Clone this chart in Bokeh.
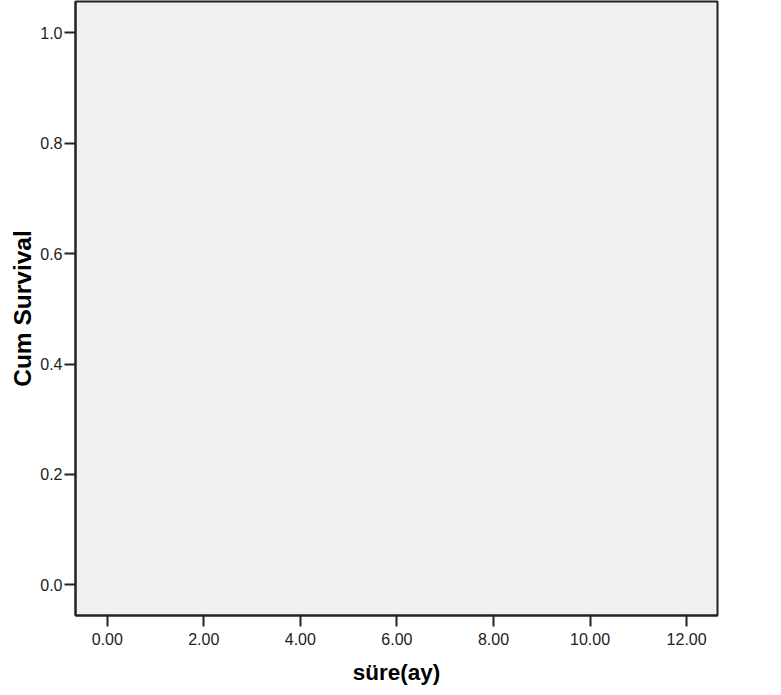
from bokeh.plotting import figure
from bokeh.layouts import row
from bokeh.models import Range1d, Legend, LegendItem, FixedTicker, ColumnDataSource
from bokeh.embed import file_html
from bokeh.resources import INLINE

NaN = float("nan")

# ---- data (no survival steps / censor marks are visible in the reference;
#      a single missing value keeps the legend keys drawable) ----
time_months = [NaN]
cum_survival = [NaN]
censor_time = [NaN]
censor_surv = [NaN]

x_ticks = [0, 2, 4, 6, 8, 10, 12]
x_tick_labels = ["0.00", "2.00", "4.00", "6.00", "8.00", "10.00", "12.00"]
y_ticks = [0.0, 0.2, 0.4, 0.6, 0.8, 1.0]
y_tick_labels = ["0.0", "0.2", "0.4", "0.6", "0.8", "1.0"]

x_title = "süre(ay)"
y_title = "Cum Survival"

BLUE = "#3F5BB3"
DARK = "#222222"
FONT = "Liberation Sans"

# ---------------- main chart ----------------
p = figure(
    width=740, height=695,
    x_range=Range1d(-0.657, 12.64), y_range=Range1d(-0.0556, 1.0567),
    output_backend="svg", toolbar_location=None,
    min_border_left=75, min_border_right=23, min_border_top=1, min_border_bottom=80,
)
p.margin = 0
p.background_fill_color = "#F0F0F0"
p.border_fill_color = "white"
p.outline_line_color = DARK
p.outline_line_width = 2
p.grid.visible = False

for ax, ticks, labels in ((p.xaxis[0], x_ticks, x_tick_labels), (p.yaxis[0], y_ticks, y_tick_labels)):
    ax.ticker = FixedTicker(ticks=ticks)
    ax.major_label_overrides = dict(zip(ticks, labels))
    ax.minor_tick_line_color = None
    ax.major_tick_in = 0
    ax.major_tick_out = 11
    ax.major_tick_line_width = 2
    ax.major_tick_line_color = DARK
    ax.axis_line_color = DARK
    ax.axis_line_width = 2
    ax.major_label_text_font = FONT
    ax.major_label_text_font_size = "16px"
    ax.major_label_text_color = DARK
    ax.axis_label_text_font = FONT
    ax.axis_label_text_font_style = "bold"
    ax.axis_label_text_color = "black"

p.xaxis.axis_label = x_title
p.yaxis.axis_label = y_title
p.xaxis.axis_label_text_font_size = "22.5px"
p.yaxis.axis_label_text_font_size = "24.5px"
p.xaxis.major_label_standoff = 6
p.yaxis.major_label_standoff = 2
p.xaxis.axis_label_standoff = 12
p.yaxis.axis_label_standoff = 1

p.step(x=time_months, y=cum_survival, mode="after", line_color=BLUE, line_width=1.5)
p.scatter(x=censor_time, y=censor_surv, marker="cross", size=17,
          line_color=BLUE, line_width=1.5)

# ---------------- legend strip (cut off at the right edge, as in the reference) ----------------
q = figure(width=41, height=100, x_range=Range1d(0, 1), y_range=Range1d(0, 1),
           output_backend="svg", toolbar_location=None,
           x_axis_type=None, y_axis_type=None,
           min_border_left=0, min_border_right=0, min_border_top=0, min_border_bottom=0)
q.margin = 0
q.outline_line_color = None
q.background_fill_color = "white"
q.border_fill_color = "white"

k_step = q.step(x=time_months, y=cum_survival, mode="after", line_color=BLUE, line_width=1.5)
k_cens = q.scatter(x=censor_time, y=censor_surv, marker="cross", size=17,
                   line_color=BLUE, line_width=1.5)

common = dict(label_width=0, label_standoff=0, padding=0, margin=0,
              border_line_color=None, background_fill_alpha=0,
              label_text_font=FONT, label_text_font_size="10px")
q.add_layout(Legend(items=[LegendItem(label="", renderers=[k_step])], location=(2, 50),
                    glyph_width=44, glyph_height=20, label_height=20, **common))
q.add_layout(Legend(items=[LegendItem(label="", renderers=[k_cens])], location=(2, 15),
                    glyph_width=44, glyph_height=44, label_height=44, **common))

open("out.html", "w").write(file_html(row(p, q), INLINE))
